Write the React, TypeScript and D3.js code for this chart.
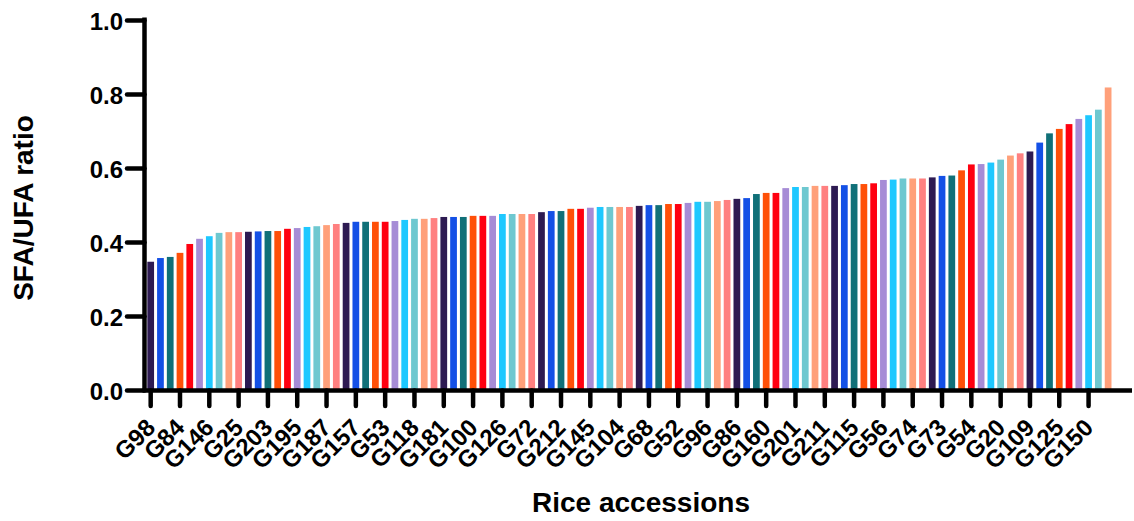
import React, { useEffect, useRef } from 'react'
import * as d3 from 'd3'

// SFA/UFA ratio per rice accession, sorted ascending
const ratios = [
  0.348, 0.358, 0.361, 0.372, 0.396, 0.410, 0.417, 0.426, 0.428, 0.428,
  0.429, 0.430, 0.431, 0.431, 0.437, 0.439, 0.442, 0.444, 0.447, 0.450,
  0.453, 0.456, 0.456, 0.456, 0.456, 0.458, 0.461, 0.464, 0.464, 0.466,
  0.469, 0.469, 0.469, 0.472, 0.472, 0.472, 0.477, 0.477, 0.477, 0.477,
  0.482, 0.485, 0.485, 0.491, 0.491, 0.494, 0.496, 0.496, 0.496, 0.496,
  0.499, 0.501, 0.501, 0.504, 0.504, 0.507, 0.510, 0.510, 0.512, 0.515,
  0.518, 0.520, 0.531, 0.534, 0.534, 0.547, 0.550, 0.550, 0.553, 0.553,
  0.553, 0.555, 0.558, 0.558, 0.560, 0.569, 0.570, 0.573, 0.573, 0.573,
  0.576, 0.580, 0.581, 0.595, 0.611, 0.612, 0.616, 0.624, 0.635, 0.641,
  0.646, 0.670, 0.695, 0.707, 0.720, 0.734, 0.744, 0.759, 0.819,
]

// only every third bar carries a label
const tickLabels = [
  'G98', 'G84', 'G146', 'G25', 'G203', 'G195', 'G187', 'G157', 'G53', 'G118',
  'G181', 'G100', 'G126', 'G72', 'G212', 'G145', 'G104', 'G68', 'G52', 'G96',
  'G86', 'G160', 'G201', 'G211', 'G115', 'G56', 'G74', 'G73', 'G54', 'G20',
  'G109', 'G125', 'G150',
]

const yTicks = [0, 0.2, 0.4, 0.6, 0.8, 1.0]

const palette = [
  '#2d1a52', '#1450e6', '#107078', '#ff5008', '#ff0010',
  '#a68cd6', '#1ec8ff', '#6ec8d0', '#ffa07a', '#ff8080',
]

const W = 1134
const H = 521
const FONT = '"Liberation Sans", Arial, Helvetica, sans-serif'

export default function App() {
  const ref = useRef<SVGSVGElement>(null)

  useEffect(() => {
    const svg = d3.select(ref.current)
    svg.selectAll('*').remove()

    const axisX = 144.5
    const baseY = 390.5

    const x = d3.scaleBand<number>()
      .domain(ratios.map((_, i) => i))
      .range([145.8, 1113])
      .paddingInner(0.31)
      .paddingOuter(0.155)

    const y = d3.scaleLinear().domain([0, 1]).range([baseY, 20.5])

    // bars
    svg.append('g')
      .selectAll('rect')
      .data(ratios)
      .join('rect')
      .attr('x', (_, i) => x(i)!)
      .attr('width', x.bandwidth())
      .attr('y', d => y(d))
      .attr('height', d => baseY - y(d))
      .attr('fill', (_, i) => palette[i % palette.length])

    // y axis
    const ya = svg.append('g').attr('stroke', '#000').attr('stroke-width', 4.5)
    ya.append('line')
      .attr('x1', axisX).attr('x2', axisX)
      .attr('y1', y(1) - 3).attr('y2', baseY)
    ya.selectAll('line.tick')
      .data(yTicks)
      .join('line')
      .attr('class', 'tick')
      .attr('x1', 127).attr('x2', axisX)
      .attr('y1', d => y(d)).attr('y2', d => y(d))
      .attr('stroke-linecap', 'round')

    svg.append('g')
      .selectAll('text')
      .data(yTicks)
      .join('text')
      .attr('x', 123)
      .attr('y', d => y(d))
      .attr('dy', '0.4em')
      .attr('text-anchor', 'end')
      .attr('font-family', FONT)
      .attr('font-weight', 'bold')
      .attr('font-size', 24)
      .text(d => d3.format('.1f')(d))

    // x axis
    const xa = svg.append('g').attr('stroke', '#000').attr('stroke-width', 4.5)
    xa.append('line')
      .attr('x1', axisX - 2).attr('x2', 1132)
      .attr('y1', baseY).attr('y2', baseY)
    xa.selectAll('line.tick')
      .data(tickLabels)
      .join('line')
      .attr('class', 'tick')
      .attr('x1', (_, i) => x(i * 3)! + x.bandwidth() / 2)
      .attr('x2', (_, i) => x(i * 3)! + x.bandwidth() / 2)
      .attr('y1', baseY).attr('y2', 406)
      .attr('stroke-linecap', 'round')

    svg.append('g')
      .selectAll('text')
      .data(tickLabels)
      .join('text')
      .attr('transform', (_, i) =>
        `translate(${x(i * 3)! + x.bandwidth() / 2 + 6},429) rotate(-45)`)
      .attr('text-anchor', 'end')
      .attr('font-family', FONT)
      .attr('font-weight', 'bold')
      .attr('font-size', 24)
      .text(d => d)

    // titles
    svg.append('text')
      .attr('transform', 'translate(33,208) rotate(-90)')
      .attr('text-anchor', 'middle')
      .attr('font-family', FONT)
      .attr('font-weight', 'bold')
      .attr('font-size', 28)
      .text('SFA/UFA ratio')

    svg.append('text')
      .attr('x', 641)
      .attr('y', 512)
      .attr('text-anchor', 'middle')
      .attr('font-family', FONT)
      .attr('font-weight', 'bold')
      .attr('font-size', 28)
      .text('Rice accessions')
  }, [])

  return (
    <svg
      ref={ref}
      width={W}
      height={H}
      style={{ position: 'absolute', left: 0, top: 0, background: '#fff' }}
    />
  )
}
